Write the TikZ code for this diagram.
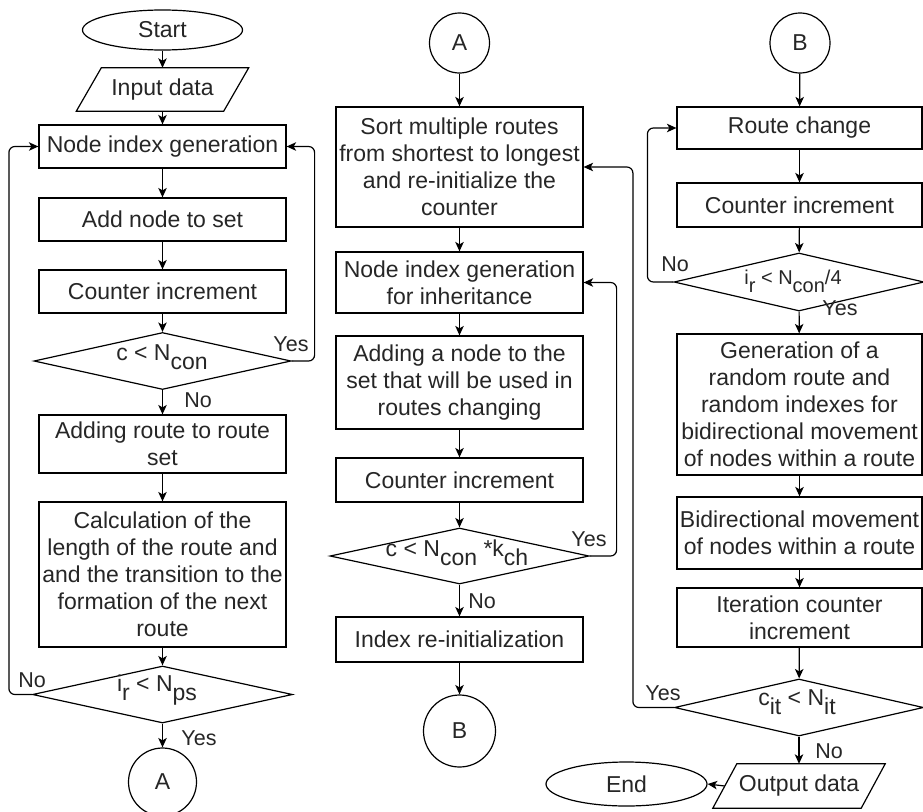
\documentclass[tikz,border=0pt]{standalone}
\usepackage{fontspec}
\setmainfont{Liberation Sans}
\usetikzlibrary{shapes.geometric,arrows.meta}
\newcommand\sbx[1]{\raisebox{-0.4em}{#1}}
\begin{document}
\begin{tikzpicture}[x=1pt,y=-1pt,
  every node/.style={font=\fontsize{23}{27}\selectfont, text=black!85},
  box/.style={draw=black, line width=1.2pt, rectangle, minimum width=247, inner sep=1pt, align=center},
  term/.style={draw=black, line width=1.2pt, ellipse, inner sep=0},
  conn/.style={draw=black, line width=1.2pt, circle, inner sep=0},
  dec/.style={draw=black, line width=1.2pt, diamond, inner sep=0},
  io/.style={rectangle, inner sep=0, minimum width=147, minimum height=43},
  lab/.style={font=\fontsize{21.5}{24}\selectfont, inner sep=0},
  arr/.style={-{Stealth[length=9.5pt,width=8.5pt,inset=2.5pt]}, line width=1.2pt},
  loop/.style={arr, rounded corners=6pt}]
\useasboundingbox (0,0) rectangle (923,811);

% ---------- column 1 ----------
\node[term, minimum width=160, minimum height=40] (start) at (162.5,30) {Start};
\node[io] (inp) at (162.5,89.5) {Input data};
\draw[line width=1.2pt] ([xshift=-12.5pt]inp.south west) -- ([xshift=12.5pt]inp.north west) -- ([xshift=12.5pt]inp.north east) -- ([xshift=-12.5pt]inp.south east) -- cycle;
\node[box, minimum height=43] (g1) at (162.5,146.5) {Node index generation};
\node[box, minimum height=43] (a1) at (162.5,219.5) {Add node to set};
\node[box, minimum height=43] (c1) at (162.5,291.5) {Counter increment};
\node[dec, minimum width=257, minimum height=57] (d1) at (162.5,361) {};
\node (t1) at (162,357) {c < N\sbx{con}};
\node[box, minimum height=58] (r1) at (162.5,444) {Adding route to route\\set};
\node[box, minimum height=145] (k1) at (162.5,574.5) {Calculation of the\\length of the route and\\and the transition to the\\formation of the next\\route};
\node[dec, minimum width=260, minimum height=57] (d2) at (162.5,694.5) {};
\node (t2) at (157,690) {i\sbx{r} < N\sbx{ps}};
\node[conn, minimum size=68] (A2) at (162.5,782) {A};

\draw[arr] (start) -- (inp);
\draw[arr] (inp) -- (g1);
\draw[arr] (g1) -- (a1);
\draw[arr] (a1) -- (c1);
\draw[arr] (c1) -- (d1);
\draw[arr] (d1) -- (r1);
\draw[arr] (r1) -- (k1);
\draw[arr] (k1) -- (d2);
\draw[arr] (d2) -- (A2);
\draw[loop] (d1.east) -- ++(23,0) |- (g1.east);
\draw[loop] (d2.west) -- ++(-23,0) |- (g1.west);
\node[lab] (y1) at (291,344) {Yes};
\node[lab] (n1) at (198,400) {No};
\node[lab] (n2) at (32,680) {No};
\node[lab] (y2) at (199,738) {Yes};

% ---------- column 2 ----------
\node[conn, minimum size=60] (A1) at (459.5,43) {A};
\node[box, minimum height=120] (s2) at (459.5,167) {Sort multiple routes\\from shortest to longest\\and re-initialize the\\counter};
\node[box, minimum height=61] (g2) at (459.5,282.5) {Node index generation\\for inheritance};
\node[box, minimum height=93] (a2) at (459.5,382.5) {Adding a node to the\\set that will be used in\\routes changing};
\node[box, minimum height=44] (c2) at (459.5,480) {Counter increment};
\node[dec, minimum width=259, minimum height=56] (d3) at (459.5,556) {};
\node (t3) at (457,553) {c < N\sbx{con} *k\sbx{ch}};
\node[box, minimum height=45] (ri) at (459.5,639.5) {Index re-initialization};
\node[conn, minimum size=72] (B2) at (459.5,731) {B};

\draw[arr] (A1) -- (s2);
\draw[arr] (s2) -- (g2);
\draw[arr] (g2) -- (a2);
\draw[arr] (a2) -- (c2);
\draw[arr] (c2) -- (d3);
\draw[arr] (d3) -- (ri);
\draw[arr] (ri) -- (B2);
\draw[loop] (d3.east) -- ++(27,0) |- (g2.east);
\node[lab] (y3) at (589,539) {Yes};
\node[lab] (n3) at (482,601) {No};

% ---------- column 3 ----------
\node[conn, minimum size=60] (B1) at (800,43) {B};
\node[box, minimum width=245, minimum height=42] (rc) at (799.5,128) {Route change};
\node[box, minimum width=245, minimum height=44] (c3) at (799.5,205) {Counter increment};
\node[dec, minimum width=250, minimum height=58] (d4) at (799,282) {};
\node (t4) at (793,281) {\fontsize{20}{24}\selectfont i\sbx{r} < N\sbx{con}/4};
\node[box, minimum width=245, minimum height=141] (g3) at (799.5,404.5) {Generation of a\\random route and\\random indexes for\\bidirectional movement\\of nodes within a route};
\node[box, minimum width=245, minimum height=72] (bm) at (799.5,533) {Bidirectional movement\\of nodes within a route};
\node[box, minimum width=245, minimum height=59] (ic) at (799.5,617.5) {Iteration counter\\increment};
\node[dec, minimum width=249, minimum height=57] (d5) at (799,707.5) {};
\node (t5) at (797,702) {c\sbx{it} < N\sbx{it}};
\node[io, minimum width=148, minimum height=44] (out) at (799,786) {Output data};
\draw[line width=1.2pt] ([xshift=-12pt]out.south west) -- ([xshift=12pt]out.north west) -- ([xshift=12pt]out.north east) -- ([xshift=-12pt]out.south east) -- cycle;
\node[term, minimum width=161, minimum height=44] (endn) at (626.5,784) {End};

\draw[arr] (B1) -- (rc);
\draw[arr] (rc) -- (c3);
\draw[arr] (c3) -- (d4);
\draw[arr] (d4) -- (g3);
\draw[arr] (g3) -- (bm);
\draw[arr] (bm) -- (ic);
\draw[arr] (ic) -- (d5);
\draw[arr] (d5) -- (out);
\draw[arr] (out.west) -- (endn.east);
\draw[loop] (d4.west) -- ++(-26,0) |- (rc.west);
\draw[loop] (d5.west) -- ++(-41,0) |- (s2.east);
\node[lab] (n4) at (675,264) {No};
\node[lab] (y4) at (840,308) {Yes};
\node[lab] (y5) at (663,693) {Yes};
\node[lab] (n5) at (829,751) {No};
\end{tikzpicture}
\end{document}
